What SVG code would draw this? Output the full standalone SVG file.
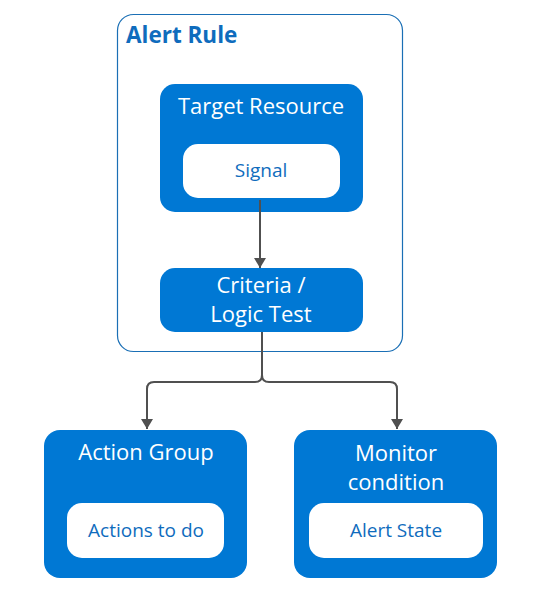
<svg xmlns="http://www.w3.org/2000/svg" width="544" height="607" viewBox="0 0 544 607">
<defs>
<marker id="arr" viewBox="0 0 10 12" refX="10" refY="6" markerWidth="10" markerHeight="12" markerUnits="userSpaceOnUse" orient="auto">
<path d="M0,0 L10,6 L0,12 z" fill="#505050"/>
</marker>
<style>
.blue{fill:#0078d4;}
.white{fill:#ffffff;}
.t{font-family:"Segoe UI","Open Sans","Noto Sans",sans-serif;text-anchor:middle;}
.tw{fill:#ffffff;font-size:22px;}
.tb{fill:#0f6cbd;font-size:19px;}
.c{fill:none;stroke:#505050;stroke-width:2;}
</style>
</defs>
<rect width="544" height="607" fill="#ffffff"/>
<g id="alert-rule">
<rect x="117.5" y="14.5" width="285" height="337" rx="16" fill="#ffffff" stroke="#1a6fb5" stroke-width="1.2"/>
<text x="126" y="43" font-family="'Segoe UI','Open Sans','Noto Sans',sans-serif" font-weight="bold" font-size="22.5" fill="#0f6cbd">Alert Rule</text>
</g>
<g id="target-resource">
<rect class="blue" x="160" y="84" width="203" height="128" rx="15"/>
<text class="t tw" x="261" y="114">Target Resource</text>
</g>
<g id="signal">
<rect class="white" x="183" y="144" width="157" height="54" rx="15"/>
<text class="t tb" x="261" y="177">Signal</text>
</g>
<g id="criteria">
<rect class="blue" x="160" y="268" width="203" height="64" rx="15"/>
<text class="t tw" x="261" y="293">Criteria /</text>
<text class="t tw" x="261" y="322">Logic Test</text>
</g>
<g id="action-group">
<rect class="blue" x="44" y="430" width="203" height="148" rx="16"/>
<text class="t tw" x="146" y="460">Action Group</text>
</g>
<g id="actions-to-do">
<rect class="white" x="67" y="503" width="157" height="55" rx="15"/>
<text class="t tb" x="146" y="537">Actions to do</text>
</g>
<g id="monitor-condition">
<rect class="blue" x="294" y="430" width="203" height="148" rx="16"/>
<text class="t tw" x="396" y="461">Monitor</text>
<text class="t tw" x="396" y="490">condition</text>
</g>
<g id="alert-state">
<rect class="white" x="309" y="503" width="174" height="55" rx="15"/>
<text class="t tb" x="396" y="537">Alert State</text>
</g>
<g id="connectors">
<path class="c" d="M260,200 V268" marker-end="url(#arr)"/>
<path class="c" d="M262,332 V375 Q262,382 255,382 H154 Q147,382 147,389 V429" marker-end="url(#arr)"/>
<path class="c" d="M262,332 V375 Q262,382 269,382 H390 Q397,382 397,389 V429" marker-end="url(#arr)"/>
</g>
</svg>
